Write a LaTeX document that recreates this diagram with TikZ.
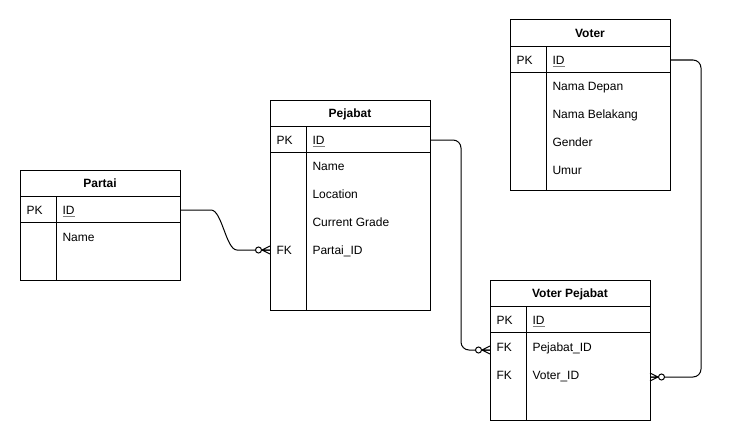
\documentclass[tikz,border=0pt]{standalone}
\usepackage{fontspec}
\setmainfont{Liberation Sans}
\newcommand{\pkid}[1]{{\color{gray}\underline{\color{black}#1}}}
\begin{document}
\begin{tikzpicture}[x=1pt,y=-1pt,line width=1pt,
  every node/.style={font=\fontsize{12}{14}\selectfont, inner sep=0pt, text height=8.6pt, text depth=0pt},
  tbl/.style={draw, rectangle, minimum width=160pt, anchor=north west, outer sep=0pt},
  ttl/.style={font=\fontsize{12}{14}\selectfont\bfseries},
  fld/.style={anchor=west},
  conn/.style={line width=1pt, rounded corners=8pt},
  zeromany/.pic={
    \draw (-8,0) -- (0,-4) (-8,0) -- (0,0) (-8,0) -- (0,4);
    \draw[fill=white] (-11.5,0) circle (3pt);
  }
]
\useasboundingbox (0,0) rectangle (730,444);

% ---------- Partai ----------
\node[tbl, minimum height=110pt] (partai) at (20,170) {};
\node[ttl] (partai-t) at (100,183.5) {Partai};
\draw (20,196.5) -- (180,196.5) (20,222.5) -- (180,222.5) (56,196.5) -- (56,280);
\node[fld] (partai-pk) at (26,210) {PK};
\node[fld] (partai-id) at (62,210) {\pkid{ID}};
\node[fld] (partai-name) at (62,237) {Name};

% ---------- Pejabat ----------
\node[tbl, minimum height=210pt] (pejabat) at (270,100) {};
\node[ttl] (pejabat-t) at (350,113.5) {Pejabat};
\draw (270,126.5) -- (430,126.5) (270,152.5) -- (430,152.5) (306,126.5) -- (306,310);
\node[fld] (pejabat-pk) at (276,140) {PK};
\node[fld] (pejabat-id) at (312,140) {\pkid{ID}};
\node[fld] (pejabat-name) at (312,166) {Name};
\node[fld] (pejabat-loc) at (312,194) {Location};
\node[fld] (pejabat-grade) at (312,222) {Current Grade};
\node[fld] (pejabat-fkl) at (276,250) {FK};
\node[fld] (pejabat-fk) at (312,250) {Partai\_ID};

% ---------- Voter ----------
\node[tbl, minimum height=170pt] (voter) at (510,20) {};
\node[ttl] (voter-t) at (590,33.5) {Voter};
\draw (510,46.5) -- (670,46.5) (510,72.5) -- (670,72.5) (546,46.5) -- (546,190);
\node[fld] (voter-pk) at (516,60) {PK};
\node[fld] (voter-id) at (552,60) {\pkid{ID}};
\node[fld] (voter-nd) at (552,86) {Nama Depan};
\node[fld] (voter-nb) at (552,114) {Nama Belakang};
\node[fld] (voter-g) at (552,142) {Gender};
\node[fld] (voter-u) at (552,170) {Umur};

% ---------- Voter Pejabat ----------
\node[tbl, minimum height=140pt] (vp) at (490,280) {};
\node[ttl] (vp-t) at (570,293.5) {Voter Pejabat};
\draw (490,306.5) -- (650,306.5) (490,332.5) -- (650,332.5) (526,306.5) -- (526,420);
\node[fld] (vp-pk) at (496,320) {PK};
\node[fld] (vp-id) at (532,320) {\pkid{ID}};
\node[fld] (vp-fk1l) at (496,347) {FK};
\node[fld] (vp-fk1) at (532,347) {Pejabat\_ID};
\node[fld] (vp-fk2l) at (496,375) {FK};
\node[fld] (vp-fk2) at (532,375) {Voter\_ID};

% ---------- connector end points ----------
\coordinate (vp-in1) at (490,350);
\coordinate (vp-in2) at (650,377);
\coordinate (route2) at (461,0);
\coordinate (route3) at (701,0);

% ---------- connectors ----------
\draw[conn] (partai.east |- partai-id) -- ++(23,0)
  .. controls +(19,0) and +(-19,0) .. ([xshift=-25pt]pejabat.west |- pejabat-fk)
  -- (pejabat.west |- pejabat-fk);
\pic at (pejabat.west |- pejabat-fk) {zeromany};

\draw[conn] (pejabat.east |- pejabat-id) -- (route2 |- pejabat-id) -- (route2 |- vp-in1) -- (vp-in1);
\pic at (vp-in1) {zeromany};

\draw[conn] (voter.east |- voter-id) -- (route3 |- voter-id) -- (route3 |- vp-in2) -- (vp-in2);
\pic[xscale=-1] at (vp-in2) {zeromany};
\end{tikzpicture}
\end{document}
